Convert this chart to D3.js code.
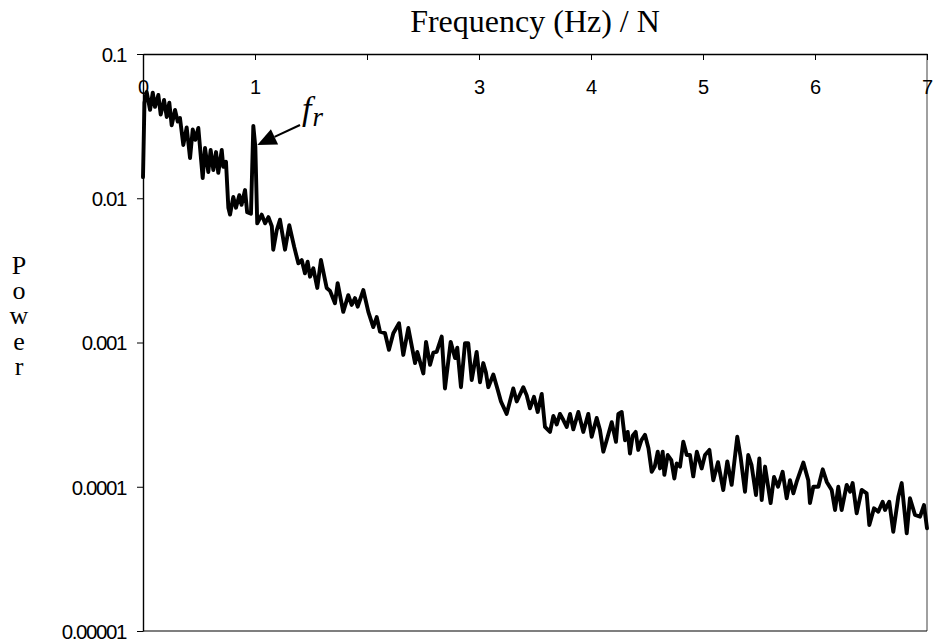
<!DOCTYPE html>
<html>
<head>
<meta charset="utf-8">
<script src="https://cdn.jsdelivr.net/npm/d3@7"></script>
<style>
  body { margin: 0; background: #fff; }
  svg { display: block; }
</style>
</head>
<body>
<svg id="chart" width="936" height="642"></svg>
<script>
// Power spectrum, frequency normalised by N (Hz / N)
const frequency = [
  0, 0.013, 0.033, 0.063, 0.087, 0.107, 0.137, 0.158, 0.188, 0.212, 0.235, 0.256, 0.286, 0.31, 0.33,
  0.36, 0.39, 0.42, 0.444, 0.467, 0.494, 0.533, 0.554, 0.583, 0.604, 0.628, 0.652, 0.672, 0.703, 0.717,
  0.741, 0.762, 0.777, 0.806, 0.83, 0.86, 0.88, 0.911, 0.93, 0.964, 0.985, 1.003, 1.02, 1.06, 1.09, 1.12, 1.15,
  1.163, 1.194, 1.223, 1.268, 1.306, 1.35, 1.387, 1.417, 1.446, 1.47, 1.491, 1.521, 1.556, 1.589, 1.619,
  1.64, 1.67, 1.714, 1.738, 1.788, 1.833, 1.863, 1.893, 1.917, 1.967, 2.012, 2.056, 2.087, 2.116, 2.161,
  2.196, 2.235, 2.286,
  2.324, 2.369, 2.429, 2.449, 2.503, 2.527, 2.563, 2.592, 2.622, 2.667, 2.696, 2.747, 2.786, 2.806, 2.839,
  2.875, 2.904, 2.935, 2.979, 3.009, 3.038, 3.062, 3.083, 3.128, 3.167, 3.196, 3.247, 3.306, 3.337, 3.396,
  3.426, 3.455, 3.491, 3.524, 3.56, 3.589, 3.634, 3.664, 3.694, 3.723, 3.753, 3.783, 3.813, 3.842, 3.887,
  3.931, 3.976, 4.006, 4.051, 4.08, 4.11, 4.14, 4.185, 4.223, 4.244, 4.274,
  4.304, 4.328, 4.348, 4.372, 4.399, 4.422, 4.45, 4.482, 4.513, 4.542, 4.569, 4.596, 4.616, 4.64, 4.655,
  4.685, 4.717, 4.744, 4.765, 4.795, 4.824, 4.855, 4.884, 4.913, 4.945, 4.988, 5.018, 5.057, 5.092, 5.134,
  5.181, 5.217, 5.256, 5.306, 5.336, 5.375, 5.404, 5.433, 5.473, 5.503, 5.524, 5.554, 5.604, 5.634, 5.67,
  5.711, 5.747, 5.777, 5.807, 5.836, 5.896, 5.94, 5.955, 5.985, 6.03, 6.069, 6.105, 6.149, 6.179, 6.208,
  6.238, 6.283, 6.313, 6.336, 6.372, 6.417, 6.461, 6.485, 6.527, 6.565, 6.604, 6.625, 6.663, 6.699, 6.744,
  6.774, 6.819, 6.848, 6.893, 6.938, 6.973, 7.0
];
const power = [
  0.014, 0.046, 0.0545, 0.041, 0.054, 0.043, 0.052, 0.038, 0.048, 0.0366, 0.046, 0.032, 0.041, 0.034, 0.036,
  0.0234, 0.031, 0.019, 0.030, 0.0254, 0.0307, 0.0138, 0.0223, 0.0152, 0.0216, 0.0157, 0.0209, 0.015, 0.0216, 0.0165,
  0.0179, 0.0086, 0.0077, 0.0102, 0.0086, 0.0105, 0.009, 0.0114, 0.008, 0.0078, 0.0317, 0.0227, 0.0067, 0.0077, 0.0067, 0.0074, 0.0064,
  0.0044, 0.006, 0.0071, 0.0044, 0.0065, 0.0046, 0.00354, 0.00373, 0.00302, 0.00363, 0.00286, 0.00327, 0.00239, 0.00373, 0.00286,
  0.00239, 0.00228, 0.00187, 0.00258, 0.00163, 0.00213, 0.00182, 0.00203, 0.00177, 0.00231, 0.00163, 0.00128, 0.0015, 0.00119, 0.00116,
  0.00089, 0.00116, 0.00136,
  0.00082, 0.00126, 0.00072, 0.00086, 0.00061, 0.00101, 0.0007, 0.00085, 0.00086, 0.0011, 0.00048, 0.00101, 0.00078, 0.00092, 0.00049,
  0.00099, 0.00099, 0.00055, 0.00086, 0.00053, 0.00072, 0.00062, 0.00049, 0.0006, 0.00047, 0.00039, 0.00032, 0.00048, 0.00039, 0.00049,
  0.00043, 0.00035, 0.00042, 0.00033, 0.00044, 0.00026, 0.00024, 0.00031, 0.00027, 0.00032, 0.00029, 0.00026, 0.00032, 0.00025, 0.00033,
  0.00024, 0.00032, 0.000222, 0.0003, 0.000247, 0.000175, 0.00021, 0.00028, 0.000205, 0.00032, 0.00033,
  0.00021, 0.00024, 0.00017, 0.000226, 0.00024, 0.00018, 0.00021, 0.000229, 0.000185, 0.000127, 0.000138, 0.000175, 0.000134, 0.000175, 0.000121,
  0.000166, 0.000153, 0.000114, 0.000145, 0.000138, 0.000205, 0.000166, 0.000166, 0.000118, 0.000175, 0.000134, 0.000166, 0.00018, 0.000111, 0.000148,
  0.0000949, 0.00015, 0.000103, 0.000222, 0.00016, 0.0000924, 0.000166, 0.000142, 0.0000877, 0.000157, 0.000081, 0.000138, 0.000077, 0.000117, 0.0001,
  0.000127, 0.0000832, 0.000111, 0.0000901, 0.000108, 0.000147, 0.000111, 0.000077, 0.0001, 0.0001, 0.000132, 0.000108, 0.000095, 0.000069, 0.0001,
  0.000069, 0.000103, 0.0000924, 0.000106, 0.0000655, 0.000095, 0.00009, 0.0000543, 0.0000709, 0.0000672, 0.0000788, 0.000069, 0.0000788, 0.0000488, 0.0000853,
  0.000106, 0.0000476, 0.0000832, 0.0000637, 0.000062, 0.0000747, 0.0000515
];

const xTickValues = [0, 1, 2, 3, 4, 5, 6, 7];
const xTickLabels = ["0", "1", "", "3", "4", "5", "6", "7"];
const yTickValues = [0.1, 0.01, 0.001, 0.0001, 0.00001];
const yTickLabels = ["0.1", "0.01", "0.001", "0.0001", "0.00001"];
const xTitle = "Frequency (Hz) / N";
const yTitle = "Power";
const rotorPeakFreq = 0.985;   // f_r spike

const W = 936, H = 642;
const margin = { top: 54, right: 9, bottom: 11, left: 143 };
const svg = d3.select("#chart");

const x = d3.scaleLinear().domain([0, 7]).range([margin.left, W - margin.right]);
const y = d3.scaleLog().domain([0.00001, 0.1]).range([H - margin.bottom, margin.top]);

const labelFont = "Arial, 'Liberation Sans', sans-serif";
const serifFont = "'Times New Roman', 'Liberation Serif', serif";

// plot frame: grey right edge, black bottom edge
svg.append("line")
  .attr("x1", x(7)).attr("x2", x(7))
  .attr("y1", y(0.1)).attr("y2", y(0.00001))
  .attr("stroke", "#808080").attr("stroke-width", 1.5);
svg.append("line")
  .attr("x1", x(0)).attr("x2", x(7))
  .attr("y1", y(0.00001)).attr("y2", y(0.00001))
  .attr("stroke", "#000").attr("stroke-width", 1.2);

// spectrum line
const pts = frequency.map((f, i) => [f, power[i]]);
const line = d3.line().x(d => x(d[0])).y(d => y(d[1]));
svg.append("path")
  .datum(pts)
  .attr("d", line)
  .attr("fill", "none")
  .attr("stroke", "#000")
  .attr("stroke-width", 3.9)
  .attr("stroke-linejoin", "round")
  .attr("stroke-linecap", "round");

// frequency axis along the top, ticks pointing into the plot
const xAxis = d3.axisBottom(x)
  .tickValues(xTickValues)
  .tickFormat((d, i) => xTickLabels[i])
  .tickSize(6)
  .tickSizeOuter(0)
  .tickPadding(20);
const gx = svg.append("g")
  .attr("transform", `translate(0,${y(0.1)})`)
  .call(xAxis);
gx.select(".domain").attr("stroke", "#000").attr("stroke-width", 1.4);
gx.selectAll(".tick line").attr("stroke", "#000").attr("stroke-width", 1);
gx.selectAll(".tick text")
  .attr("fill", "#000")
  .style("font-family", labelFont)
  .style("font-size", "20px");

// logarithmic power axis
const yAxis = d3.axisLeft(y)
  .tickValues(yTickValues)
  .tickFormat((d, i) => yTickLabels[i])
  .tickSize(6)
  .tickSizeOuter(0)
  .tickPadding(11);
const gy = svg.append("g")
  .attr("transform", `translate(${x(0)},0)`)
  .call(yAxis);
gy.select(".domain").attr("stroke", "#000").attr("stroke-width", 1.4);
gy.selectAll(".tick line").attr("stroke", "#000").attr("stroke-width", 1);
gy.selectAll(".tick text")
  .attr("fill", "#000")
  .attr("dy", "0.36em")
  .style("font-family", labelFont)
  .style("font-size", "20.5px")
  .style("letter-spacing", "-1.4px");

// axis titles
svg.append("text")
  .attr("x", 535).attr("y", 32)
  .attr("text-anchor", "middle")
  .style("font-family", serifFont)
  .style("font-size", "32px")
  .text(xTitle);

// "Power" written as a stacked, upright column of letters
svg.append("text")
  .attr("x", 19).attr("y", 251)
  .style("writing-mode", "vertical-rl")
  .style("text-orientation", "upright")
  .style("font-family", serifFont)
  .style("font-size", "26px")
  .style("letter-spacing", "-3.8px")
  .text(yTitle);

// f_r annotation with arrow pointing at the rotor spike
const peakIdx = frequency.indexOf(rotorPeakFreq);
const tipX = x(rotorPeakFreq) + 4, tipY = y(power[peakIdx]) + 19;
const tailX = 300, tailY = 125;
const ang = Math.atan2(tailY - tipY, tailX - tipX);
const headLen = 19, headHalf = 8.5;
const bx = tipX + headLen * Math.cos(ang), by = tipY + headLen * Math.sin(ang);
svg.append("line")
  .attr("x1", tailX).attr("y1", tailY)
  .attr("x2", bx).attr("y2", by)
  .attr("stroke", "#000").attr("stroke-width", 2);
svg.append("path")
  .attr("d", `M${tipX},${tipY}L${bx + headHalf * Math.sin(ang)},${by - headHalf * Math.cos(ang)}L${bx - headHalf * Math.sin(ang)},${by + headHalf * Math.cos(ang)}Z`)
  .attr("fill", "#000");

const fr = svg.append("text")
  .attr("x", 302).attr("y", 120)
  .style("font-family", serifFont)
  .style("font-style", "italic");
fr.append("tspan").style("font-size", "34px").text("f");
fr.append("tspan").attr("dx", 1).attr("dy", 6).style("font-size", "27px").text("r");
</script>
</body>
</html>
